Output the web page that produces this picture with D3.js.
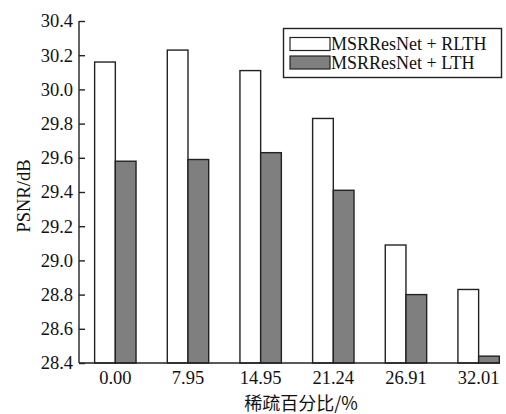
<!DOCTYPE html>
<html>
<head>
<meta charset="utf-8">
<script src="https://cdn.jsdelivr.net/npm/d3@7"></script>
<style>
  body { margin: 0; background: #fff; }
</style>
</head>
<body>
<script>
// data
var sparsity = ['0.00', '7.95', '14.95', '21.24', '26.91', '32.01']
var rlth = [30.16, 30.23, 30.11, 29.83, 29.09, 28.83]
var lth = [29.58, 29.59, 29.63, 29.41, 28.80, 28.44]
var series = ['MSRResNet + RLTH', 'MSRResNet + LTH']
var yTicks = [28.4, 28.6, 28.8, 29.0, 29.2, 29.4, 29.6, 29.8, 30.0, 30.2, 30.4]

var width = 506, height = 414
var x0 = 79, xEnd = 500, yTop = 21, yBot = 363
var colors = ['#ffffff', '#7f7f7f']
var serif = '"Liberation Serif", "Times New Roman", "DejaVu Serif", serif'

var svg = d3.select('body').append('svg')
  .attr('width', width)
  .attr('height', height)
  .attr('font-family', serif)
  .attr('fill', '#111')

var x_scale = d3.scaleBand().domain(sparsity).range([x0, x0 + 6 * 72.66])
var bar_w = 20.7
var y_scale = d3.scaleLinear().domain([28.4, 30.4]).range([yBot, yTop])

// bars
var groups = svg.selectAll('g.group')
  .data(sparsity)
  .enter().append('g')
  .attr('class', 'group')
  .attr('transform', function(d) { return 'translate(' + (x_scale(d) + x_scale.bandwidth() / 2) + ',0)' })

groups.selectAll('rect')
  .data(function(d, i) { return [rlth[i], lth[i]] })
  .enter().append('rect')
  .attr('x', function(v, j) { return j == 0 ? -bar_w : 0 })
  .attr('y', function(v) { return y_scale(v) })
  .attr('width', bar_w)
  .attr('height', function(v) { return yBot - y_scale(v) })
  .style('fill', function(v, j) { return colors[j] })
  .style('stroke', '#222')
  .style('stroke-width', 1.4)

// y axis, ticks pointing inward
var yAxis = svg.append('g')
  .attr('transform', 'translate(' + x0 + ',0)')
  .call(d3.axisRight(y_scale).tickValues(yTicks).tickSize(6).tickFormat(''))
yAxis.select('.domain').remove()
yAxis.selectAll('line').style('stroke', '#222').style('stroke-width', 1.4)
svg.append('line')
  .attr('x1', x0).attr('x2', x0).attr('y1', yTop).attr('y2', yBot)
  .style('stroke', '#222').style('stroke-width', 1.4)

svg.selectAll('text.ytick')
  .data(yTicks)
  .enter().append('text')
  .attr('class', 'ytick')
  .attr('x', x0 - 6)
  .attr('y', function(d) { return y_scale(d) })
  .attr('dy', '0.35em')
  .attr('text-anchor', 'end')
  .style('font-family', serif)
  .style('font-size', '18.5px')
  .text(function(d) { return d3.format('.1f')(d) })

// x axis
svg.append('line')
  .attr('x1', x0).attr('x2', xEnd).attr('y1', yBot).attr('y2', yBot)
  .style('stroke', '#222').style('stroke-width', 1.4)

svg.selectAll('text.xtick')
  .data(sparsity)
  .enter().append('text')
  .attr('class', 'xtick')
  .attr('x', function(d) { return x_scale(d) + x_scale.bandwidth() / 2 })
  .attr('y', 384)
  .attr('text-anchor', 'middle')
  .style('font-family', serif)
  .style('font-size', '18.5px')
  .text(function(d) { return d })

svg.append('text')
  .attr('x', 301)
  .attr('y', 410)
  .attr('text-anchor', 'middle')
  .style('font-family', '"Noto Sans CJK SC", sans-serif')
  .style('font-size', '18px')
  .text('稀疏百分比/%')

svg.append('text')
  .attr('transform', 'translate(30,196)rotate(-90)')
  .attr('text-anchor', 'middle')
  .style('font-family', serif)
  .style('font-size', '18.5px')
  .text('PSNR/dB')

// legend
var legend = svg.append('g')
legend.append('rect')
  .attr('x', 283.5).attr('y', 28.5).attr('width', 218).attr('height', 49)
  .style('fill', '#fff').style('stroke', '#222').style('stroke-width', 1.4)
var items = legend.selectAll('g.item')
  .data(series)
  .enter().append('g')
  .attr('class', 'item')
  .attr('transform', function(d, i) { return 'translate(0,' + (i * 18.5) + ')' })
items.append('rect')
  .attr('x', 290).attr('y', 37.5).attr('width', 40).attr('height', 13)
  .style('fill', function(d, i) { return colors[i] })
  .style('stroke', '#222').style('stroke-width', 1.2)
items.append('text')
  .attr('x', 331)
  .attr('y', 50)
  .style('font-family', serif)
  .style('font-size', '18px')
  .text(function(d) { return d })
</script>
</body>
</html>
